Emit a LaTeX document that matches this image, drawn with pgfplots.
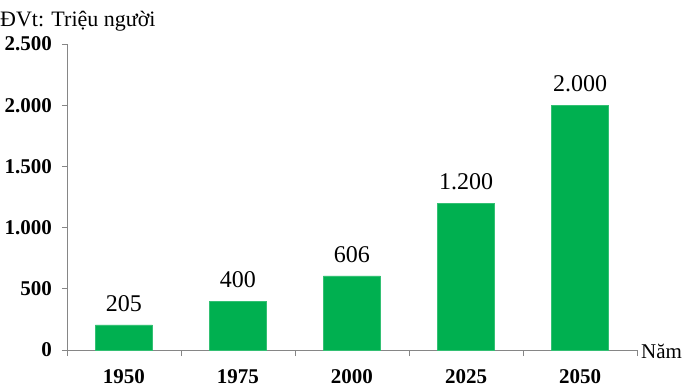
\documentclass[border=0pt]{standalone}
\usepackage{pgfplots}
\pgfplotsset{compat=1.18}
\usepackage{fontspec}
\setmainfont{Liberation Serif}
\definecolor{bargreen}{RGB}{0,176,80}
\definecolor{axgray}{RGB}{134,134,134}
\begin{document}
\begin{tikzpicture}
\begin{axis}[
  scale only axis,
  width=570pt, height=306pt,
  xmin=-0.5, xmax=4.5,
  ymin=0, ymax=2500,
  axis lines=left,
  axis line style={-, draw=axgray, line width=0.8pt},
  clip=false,
  xtick={0,1,2,3,4},
  xticklabels={1950,1975,2000,2025,2050},
  minor xtick={-0.5,0.5,1.5,2.5,3.5,4.5},
  major x tick style={draw=none},
  minor x tick style={draw=axgray, line width=0.8pt},
  minor tick length=6pt,
  ytick={0,500,1000,1500,2000,2500},
  y tick style={draw=axgray, line width=0.8pt},
  major tick length=5pt,
  tick align=outside,
  /pgf/number format/.cd, 1000 sep={.}, assume math mode=true,
  /pgfplots/.cd,
  ticklabel style={font=\fontsize{21}{25}\selectfont\bfseries, inner sep=0pt},
  yticklabel style={anchor=east, xshift=-10pt},
  xticklabel style={anchor=north, yshift=-14pt},
  nodes near coords,
  nodes near coords style={font=\fontsize{24}{28}\selectfont, anchor=south, inner sep=0pt, yshift=13pt, text=black},
]
\addplot[ybar, bar width=57pt, fill=bargreen, draw=bargreen!80!white] coordinates {
  (0,205) (1,400) (2,606) (3,1200) (4,2000)
};
\node[anchor=base west, inner sep=0pt, font=\fontsize{22}{26}\selectfont] at (rel axis cs:0,1) [xshift=-67pt, yshift=17pt] {ĐVt: Triệu người};
\node[anchor=base west, inner sep=0pt, font=\fontsize{21}{25}\selectfont] at (rel axis cs:1,0) [xshift=4pt, yshift=-8pt] {Năm};
\path[draw=none] (rel axis cs:-0.1175,-0.1307) rectangle (rel axis cs:1.0842,1.1438);
\end{axis}
\end{tikzpicture}
\end{document}
